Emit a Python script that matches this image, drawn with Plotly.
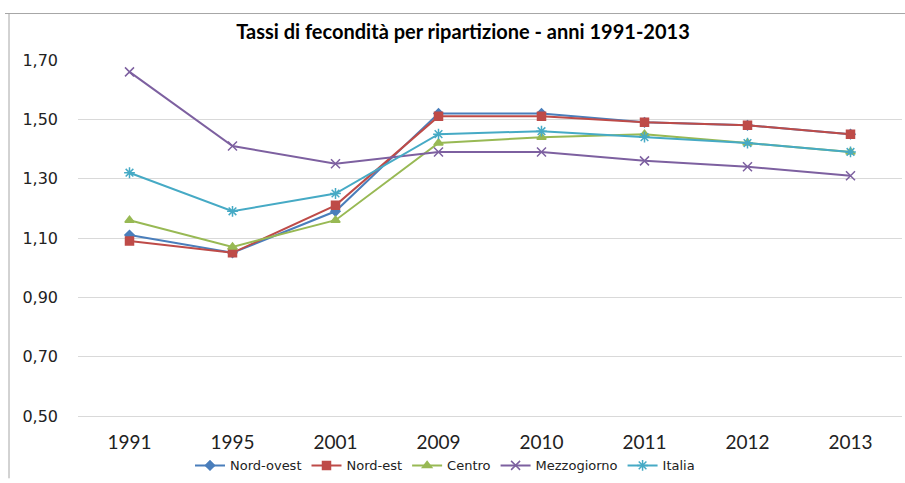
import plotly.graph_objects as go

# Total fertility rate by geographic area, Italy
anni = ["1991", "1995", "2001", "2009", "2010", "2011", "2012", "2013"]

nord_ovest = [1.11, 1.05, 1.19, 1.52, 1.52, 1.49, 1.48, 1.45]
nord_est = [1.09, 1.05, 1.21, 1.51, 1.51, 1.49, 1.48, 1.45]
centro = [1.16, 1.07, 1.16, 1.42, 1.44, 1.45, 1.42, 1.39]
mezzogiorno = [1.66, 1.41, 1.35, 1.39, 1.39, 1.36, 1.34, 1.31]
italia = [1.32, 1.19, 1.25, 1.45, 1.46, 1.44, 1.42, 1.39]

y_ticks = [0.50, 0.70, 0.90, 1.10, 1.30, 1.50, 1.70]

series = [
    ("Nord-ovest", nord_ovest, "#4a7ebb", "diamond", 7),
    ("Nord-est", nord_est, "#be4b48", "square", 8),
    ("Centro", centro, "#98b954", "triangle-up", 8),
    ("Mezzogiorno", mezzogiorno, "#7d60a0", "x-thin-open", 9),
    ("Italia", italia, "#46aac5", "asterisk-open", 9),
]

fig = go.Figure()
for name, vals, color, symbol, size in series:
    fig.add_trace(go.Scatter(
        x=anni, y=vals, name=name, mode="lines+markers",
        line=dict(color=color, width=2),
        marker=dict(symbol=symbol, size=size, color=color,
                    line=dict(color=color, width=1.5)),
    ))

W, H = 905, 483
L, R, T, B = 78, 3, 60, 63
pw, ph = W - L - R, H - T - B

def px_x(x):
    return (x - L) / pw

def px_y(y):
    return (H - B - y) / ph

border = "#a6a6a6"
fig.add_shape(type="line", xref="paper", yref="paper",
              x0=px_x(5), x1=px_x(905), y0=px_y(13), y1=px_y(13),
              line=dict(color=border, width=1))
fig.add_shape(type="line", xref="paper", yref="paper",
              x0=px_x(9), x1=px_x(9), y0=px_y(13), y1=px_y(483),
              line=dict(color=border, width=1))

fig.update_layout(
    width=W, height=H,
    margin=dict(l=L, r=R, t=T, b=B),
    paper_bgcolor="white", plot_bgcolor="white",
    separators=",.",
    title=dict(text="<b>Tassi di fecondità per ripartizione - anni 1991-2013</b>",
               x=(463) / W, xanchor="center", y=1 - 32 / H, yanchor="middle",
               xref="container", yref="container",
               font=dict(family="Lato", size=20, color="black")),
    xaxis=dict(type="category", range=[-0.5, 7.5], showgrid=False,
               showline=True, linecolor="#d9d9d9", linewidth=1,
               ticks="", tickfont=dict(family="Lato", size=19, color="#222"),
               ticklabelstandoff=9),
    yaxis=dict(range=[0.5, 1.7], tickvals=y_ticks, tickformat=".2f",
               showgrid=True, gridcolor="#d9d9d9", gridwidth=1,
               zeroline=False, showline=False, ticks="",
               tickfont=dict(family="DejaVu Sans", size=16, color="#222"),
               ticklabelstandoff=19),
    legend=dict(orientation="h", x=(445 - L) / pw, xanchor="center",
                y=px_y(470), yanchor="middle",
                font=dict(family="DejaVu Sans", size=13, color="#222"),
                itemwidth=30, tracegroupgap=0),
    showlegend=True,
)

fig.write_html("out.html")
